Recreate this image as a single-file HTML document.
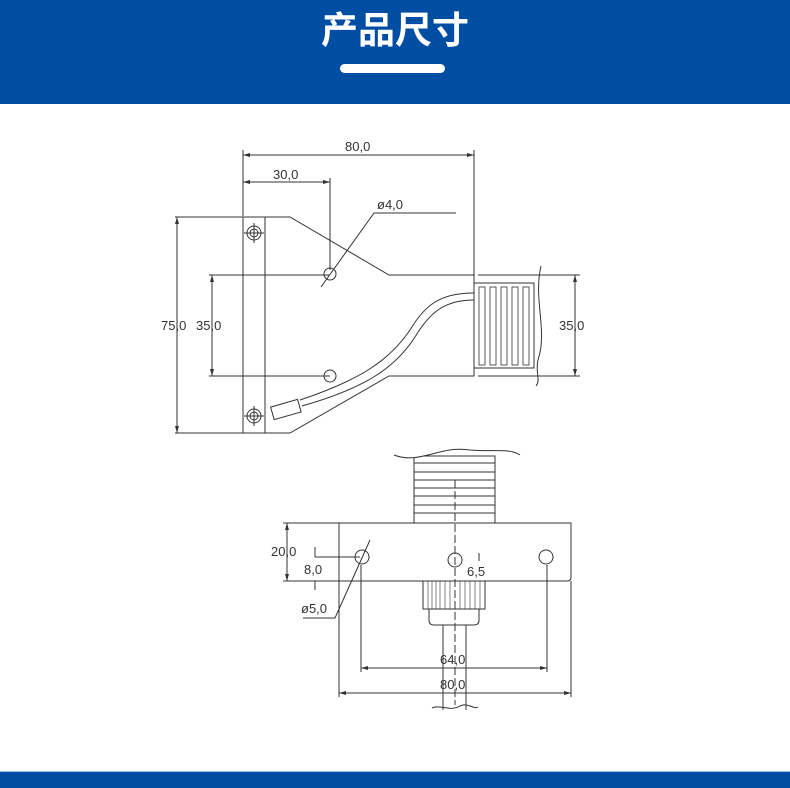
<!DOCTYPE html>
<html><head><meta charset="utf-8"><style>
html,body{margin:0;padding:0;background:#fff;}
body{width:790px;height:787px;position:relative;overflow:hidden;font-family:"Liberation Sans","Noto Sans CJK SC",sans-serif;}
.hdr{position:absolute;left:0;top:0;width:790px;height:104px;background:#004ea3;}
.ttl{position:absolute;left:0;width:790px;top:4px;text-align:center;color:#fff;font-size:37px;font-weight:bold;line-height:46px;font-family:"Noto Sans CJK SC","WenQuanYi Zen Hei",sans-serif;}
.bar{position:absolute;left:340px;top:64px;width:105px;height:9px;border-radius:5px;background:#fff;}
.ftr{position:absolute;left:0;top:771px;width:790px;height:16px;background:#004ea3;border-top:1px solid #9cc0e0;}
svg{position:absolute;left:0;top:0;}
text{font-family:"Liberation Sans",sans-serif;font-size:13px;fill:#333;}
</style></head><body>
<div class="hdr"><div class="ttl">产品尺寸</div><div class="bar"></div></div>
<svg width="790" height="787" viewBox="0 0 790 787">
<g stroke="#333" stroke-width="1" fill="none">
<line x1="243" y1="150" x2="243" y2="216"/>
<line x1="474" y1="150" x2="474" y2="275"/>
<line x1="243" y1="155" x2="474" y2="155"/>
<line x1="330" y1="178" x2="330" y2="270"/>
<line x1="243" y1="182" x2="330" y2="182"/>
<line x1="175" y1="217" x2="245" y2="217"/>
<line x1="175" y1="433" x2="245" y2="433"/>
<line x1="177" y1="217" x2="177" y2="433"/>
<line x1="209" y1="275" x2="330" y2="275"/>
<line x1="209" y1="376" x2="330" y2="376"/>
<line x1="212" y1="275" x2="212" y2="376"/>
<line x1="478" y1="275" x2="580" y2="275"/>
<line x1="478" y1="376" x2="580" y2="376"/>
<line x1="575" y1="275" x2="575" y2="376"/>
<rect x="243" y="217" width="22" height="216"/>
<polyline points="265,217 290,217 389,275 474,275 474,376 389,376 290,433 265,433"/>
<circle cx="330" cy="274" r="6"/>
<circle cx="330" cy="376" r="6"/>
<polyline points="321,287 374,213 456,213"/>
<circle cx="254" cy="233" r="7"/><circle cx="254" cy="233" r="4"/>
<line x1="244" y1="233" x2="264" y2="233"/><line x1="254" y1="223" x2="254" y2="243"/>
<circle cx="254" cy="416" r="7"/><circle cx="254" cy="416" r="4"/>
<line x1="244" y1="416" x2="264" y2="416"/><line x1="254" y1="406" x2="254" y2="426"/>
<path d="M300 400 C 360 380, 390 360, 410 330 C 425 305, 440 293, 474 293"/>
<path d="M302 406 C 365 388, 395 368, 415 337 C 430 312, 445 300, 474 300"/>
<rect x="272" y="403" width="28" height="13" transform="rotate(-16 286 410)"/>
<rect x="474" y="283" width="60" height="85"/>
<g stroke-width="0.8">
<rect x="479" y="287" width="6" height="78"/><rect x="490" y="287" width="6" height="78"/>
<rect x="501" y="287" width="6" height="78"/><rect x="512" y="287" width="6" height="78"/>
<rect x="523" y="287" width="6" height="78"/>
</g>
<path d="M541 266 C 533 300, 548 330, 538 360 C 535 372, 541 380, 536 386"/>
<path d="M339 523 H571 V577 Q571 581 567 581 H339 Z"/>
<rect x="414" y="456" width="81" height="67"/>
<line x1="414" y1="463" x2="495" y2="463"/><line x1="414" y1="472" x2="495" y2="472"/>
<line x1="414" y1="480" x2="495" y2="480"/><line x1="414" y1="488" x2="495" y2="488"/>
<line x1="414" y1="496" x2="495" y2="496"/><line x1="414" y1="505" x2="495" y2="505"/>
<line x1="414" y1="513" x2="495" y2="513"/>
<path d="M394 455 C 420 465, 440 445, 470 450 C 495 452, 510 448, 520 455" fill="#fff"/>
<line x1="455" y1="480" x2="455" y2="705" stroke-dasharray="8,3"/>
<circle cx="362" cy="557" r="7"/><circle cx="455" cy="560" r="7"/><circle cx="546" cy="557" r="7"/>
<line x1="283" y1="523" x2="339" y2="523"/><line x1="283" y1="581" x2="339" y2="581"/>
<line x1="287" y1="523" x2="287" y2="581"/>
<line x1="315" y1="557" x2="360" y2="557"/>
<line x1="315" y1="547" x2="315" y2="557"/><line x1="315" y1="581" x2="315" y2="590"/>
<polyline points="370,540 335,618 303,618"/>
<line x1="479" y1="553" x2="479" y2="561"/>
<rect x="423" y="581" width="62" height="28"/>
<g stroke-width="0.6"><line x1="428" y1="581" x2="428" y2="609"/><line x1="432" y1="581" x2="432" y2="609"/><line x1="436" y1="581" x2="436" y2="609"/><line x1="440" y1="581" x2="440" y2="609"/><line x1="445" y1="581" x2="445" y2="609"/><line x1="450" y1="581" x2="450" y2="609"/><line x1="460" y1="581" x2="460" y2="609"/><line x1="465" y1="581" x2="465" y2="609"/><line x1="470" y1="581" x2="470" y2="609"/><line x1="475" y1="581" x2="475" y2="609"/><line x1="480" y1="581" x2="480" y2="609"/></g>
<path d="M429 609 V620 Q429 625 434 625 H474 Q479 625 479 620 V609"/>
<line x1="443" y1="625" x2="443" y2="710"/><line x1="466" y1="625" x2="466" y2="710"/>
<path d="M432 708 C 440 704, 450 712, 460 706 C 468 702, 474 710, 478 707"/>
<line x1="361" y1="565" x2="361" y2="672"/><line x1="547" y1="565" x2="547" y2="672"/>
<line x1="361" y1="668" x2="547" y2="668"/>
<line x1="339" y1="581" x2="339" y2="697"/><line x1="571" y1="581" x2="571" y2="697"/>
<line x1="339" y1="693" x2="571" y2="693"/>
</g>
<g fill="#333">
<polygon points="243,155 250,153 250,157"/><polygon points="474,155 467,153 467,157"/>
<polygon points="243,182 250,180 250,184"/><polygon points="330,182 323,180 323,184"/>
<polygon points="177,217 175,224 179,224"/><polygon points="177,433 175,426 179,426"/>
<polygon points="212,275 210,282 214,282"/><polygon points="212,376 210,369 214,369"/>
<polygon points="575,275 573,282 577,282"/><polygon points="575,376 573,369 577,369"/>
<polygon points="287,523 285,530 289,530"/><polygon points="287,581 285,574 289,574"/>
<polygon points="361,668 368,666 368,670"/><polygon points="547,668 540,666 540,670"/>
<polygon points="339,693 346,691 346,695"/><polygon points="571,693 564,691 564,695"/>
</g>
<text x="345" y="151">80,0</text>
<text x="273" y="179">30,0</text>
<text x="377" y="209">ø4,0</text>
<text x="161" y="330">75,0</text>
<text x="196" y="330">35,0</text>
<text x="559" y="330">35,0</text>
<text x="271" y="556">20,0</text>
<text x="304" y="574">8,0</text>
<text x="467" y="576">6,5</text>
<text x="301" y="613">ø5,0</text>
<text x="440" y="664">64,0</text>
<text x="440" y="689">80,0</text>
</svg>
<div class="ftr"></div>
</body></html>
